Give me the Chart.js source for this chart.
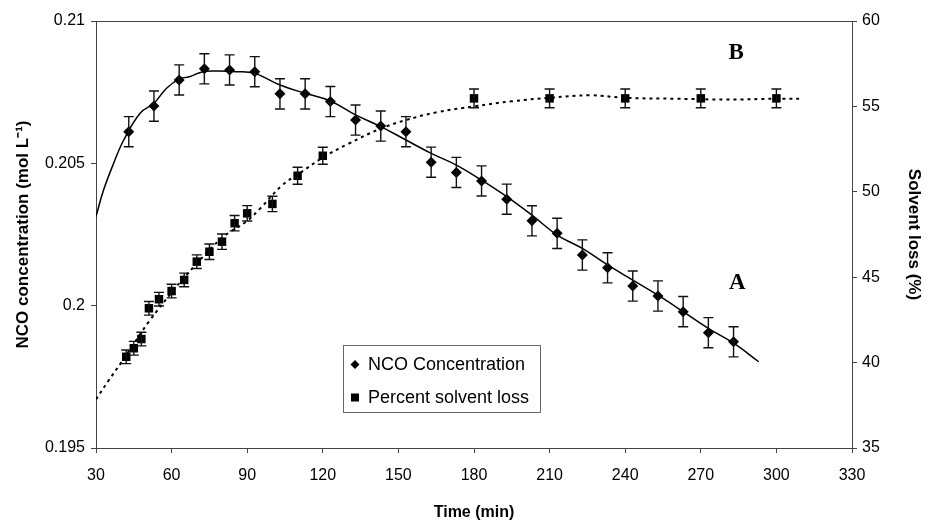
<!DOCTYPE html>
<html>
<head>
<meta charset="utf-8">
<script src="https://cdn.jsdelivr.net/npm/chart.js@4.4.1/dist/chart.umd.min.js"></script>
<style>
  body { margin: 0; background: #fff; }
  #wrap { width: 927px; height: 529px; }
</style>
</head>
<body>
<div id="wrap"><canvas id="chart" width="927" height="529"></canvas></div>
<script>
// --- Data ---
const ncoTimes = [43, 53, 63, 73, 83, 93, 103, 113, 123, 133, 143, 153, 163, 173, 183, 193, 203, 213, 223, 233, 243, 253, 263, 273, 283];
const ncoValues = [0.20611, 0.20701, 0.20793, 0.20832, 0.20828, 0.20822, 0.20744, 0.20744, 0.20717, 0.20652, 0.20631, 0.20611, 0.20504,
                   0.20468, 0.20438, 0.20374, 0.20298, 0.20254, 0.20178, 0.20133, 0.20069, 0.20034, 0.19979, 0.19905, 0.19873];
const ncoErrors = ncoTimes.map(() => 0.00053);

const lossTimes = [42, 45, 48, 51, 55, 60, 65, 70, 75, 80, 85, 90, 100, 110, 120, 180, 210, 240, 270, 300];
const lossValues = [40.34, 40.84, 41.38, 43.18, 43.71, 44.19, 44.84, 45.91, 46.49, 47.08, 48.16, 48.74, 49.29, 50.94, 52.11,
                    55.47, 55.47, 55.47, 55.47, 55.47];
const lossErrors = [0.4, 0.4, 0.4, 0.4, 0.4, 0.4, 0.4, 0.4, 0.45, 0.45, 0.45, 0.45, 0.45, 0.5, 0.5, 0.55, 0.55, 0.55, 0.55, 0.55];

// trend lines (solid polynomial fit for NCO, dotted for solvent loss)
const ncoTrendTimes = [30, 33, 37, 41, 47.5, 53, 58, 63, 67, 72.5, 78.5, 85.5, 93, 103, 113, 123, 133, 143, 153, 163, 173, 183, 193, 203, 213, 223, 233, 243, 253, 263, 273, 283, 293];
const ncoTrendValues = [0.20313, 0.20406, 0.20500, 0.20582, 0.20676, 0.20711, 0.20764, 0.20796, 0.20804, 0.20822, 0.20824, 0.20822, 0.20816,
                        0.20775, 0.20746, 0.20719, 0.20670, 0.20629, 0.20582, 0.20535, 0.20494, 0.20441, 0.20383, 0.20318, 0.20248,
                        0.20201, 0.20143, 0.20090, 0.20037, 0.19979, 0.19920, 0.19868, 0.19803];

const lossTrendTimes = [30, 35, 40, 45, 51, 60, 70, 80, 90, 95, 104, 110, 120, 130, 143, 153, 165, 180, 195, 210, 226, 240, 260, 280, 300, 309];
const lossTrendValues = [37.85, 38.95, 40.0, 41.1, 42.4, 44.1, 45.8, 47.3, 48.3, 49.0, 50.4, 51.0, 52.0, 52.8, 53.7, 54.2, 54.65, 55.0,
                         55.3, 55.5, 55.65, 55.5, 55.45, 55.4, 55.45, 55.45];

const xTicks = [30, 330, 30];      // min, max, step
const yLeftTicks = [0.195, 0.21, 0.005];
const yRightTicks = [35, 60, 5];

const legendLabels = ['NCO Concentration', 'Percent solvent loss'];
const curveLabels = [{ text: 'B', x: 284, y: 0.20887 }, { text: 'A', x: 284.5, y: 0.20079 }];

const zip = (xs, ys) => xs.map((x, i) => ({ x: x, y: ys[i] }));
const FONT = "'Liberation Sans', Arial, sans-serif";

// --- error bars drawn through the chart scales ---
const errorBars = {
    id: 'errorBars',
    afterDatasetsDraw(chart) {
        const ctx = chart.ctx;
        chart.data.datasets.forEach((ds, i) => {
            if (!ds.errors) return;
            const meta = chart.getDatasetMeta(i);
            const yScale = chart.scales[ds.yAxisID];
            ctx.save();
            ctx.strokeStyle = '#111';
            ctx.lineWidth = 1.4;
            meta.data.forEach((pt, j) => {
                const v = ds.data[j].y, e = ds.errors[j];
                const top = yScale.getPixelForValue(v + e);
                const bot = yScale.getPixelForValue(v - e);
                ctx.beginPath();
                ctx.moveTo(pt.x, top); ctx.lineTo(pt.x, bot);
                ctx.moveTo(pt.x - 5, top); ctx.lineTo(pt.x + 5, top);
                ctx.moveTo(pt.x - 5, bot); ctx.lineTo(pt.x + 5, bot);
                ctx.stroke();
            });
            ctx.restore();
        });
    }
};

// --- frame, legend box and A / B labels ---
const decorations = {
    id: 'decorations',
    afterDraw(chart) {
        const ctx = chart.ctx;
        const a = chart.chartArea;
        ctx.save();
        ctx.strokeStyle = '#444';
        ctx.lineWidth = 1;
        ctx.beginPath();
        ctx.moveTo(a.left, a.top + 0.5);
        ctx.lineTo(a.right, a.top + 0.5);
        ctx.stroke();

        // legend
        const lx = 343.5, ly = 345.5, lw = 197, lh = 67;
        ctx.strokeStyle = '#666';
        ctx.strokeRect(lx, ly, lw, lh);
        ctx.fillStyle = '#000';
        ctx.font = '18px ' + FONT;
        ctx.textBaseline = 'middle';
        ctx.textAlign = 'left';
        const rows = [ly + 19, ly + 52];
        // diamond
        ctx.beginPath();
        ctx.moveTo(355, rows[0] - 4.5); ctx.lineTo(359.5, rows[0]);
        ctx.lineTo(355, rows[0] + 4.5); ctx.lineTo(350.5, rows[0]);
        ctx.closePath(); ctx.fill();
        ctx.fillRect(351, rows[1] - 4, 8, 8);
        ctx.fillText(legendLabels[0], 368, rows[0] + 1);
        ctx.fillText(legendLabels[1], 368, rows[1] + 1);

        // curve labels
        ctx.font = "bold 23px 'Liberation Serif', 'Times New Roman', serif";
        ctx.textAlign = 'center';
        curveLabels.forEach(l => {
            ctx.fillText(l.text, chart.scales.x.getPixelForValue(l.x), chart.scales.y.getPixelForValue(l.y));
        });
        ctx.restore();
    }
};

const ctx = document.getElementById('chart').getContext('2d');
new Chart(ctx, {
    type: 'scatter',
    data: {
        datasets: [
            {
                label: 'NCO Concentration',
                data: zip(ncoTimes, ncoValues),
                errors: ncoErrors,
                yAxisID: 'y',
                pointStyle: 'rectRot',
                pointRadius: 5.5,
                backgroundColor: '#000',
                borderColor: '#000',
                borderWidth: 0
            },
            {
                label: 'Percent solvent loss',
                data: zip(lossTimes, lossValues),
                errors: lossErrors,
                yAxisID: 'y1',
                pointStyle: 'rect',
                pointRadius: 6,
                backgroundColor: '#000',
                borderColor: '#000',
                borderWidth: 0
            },
            {
                label: 'NCO trend',
                data: zip(ncoTrendTimes, ncoTrendValues),
                yAxisID: 'y',
                showLine: true,
                pointRadius: 0,
                borderColor: '#000',
                borderWidth: 1.5,
                tension: 0.4
            },
            {
                label: 'Solvent loss trend',
                data: zip(lossTrendTimes, lossTrendValues),
                yAxisID: 'y1',
                showLine: true,
                pointRadius: 0,
                borderColor: '#000',
                borderWidth: 2,
                borderDash: [3, 4],
                tension: 0.4
            }
        ]
    },
    options: {
        responsive: false,
        animation: false,
        layout: { padding: { top: 21, left: 0, right: 0, bottom: 0 } },
        plugins: {
            legend: { display: false },
            tooltip: { enabled: false }
        },
        scales: {
            x: {
                type: 'linear',
                min: xTicks[0], max: xTicks[1],
                afterFit: s => { s.height = 81; },
                ticks: { stepSize: xTicks[2], color: '#000', padding: 13, font: { family: FONT, size: 16 } },
                grid: { drawOnChartArea: false, drawTicks: true, tickLength: 5, color: '#444' },
                border: { display: true, color: '#444' },
                title: { display: true, text: 'Time (min)', color: '#000', padding: { top: 0, bottom: 7 },
                         font: { family: FONT, size: 16, weight: 'bold' } }
            },
            y: {
                position: 'left',
                min: yLeftTicks[0], max: yLeftTicks[1],
                afterFit: s => { s.width = 96; },
                ticks: { stepSize: yLeftTicks[2], color: '#000', padding: 6, font: { family: FONT, size: 16 },
                         callback: v => String(+v.toFixed(3)) },
                grid: { drawOnChartArea: false, drawTicks: true, tickLength: 5, color: '#444' },
                border: { display: true, color: '#444' },
                title: { display: true, text: 'NCO concentration (mol L\u207B\u00B9)', color: '#000', padding: { top: 13, bottom: 0 },
                         font: { family: FONT, size: 17, weight: 'bold' } }
            },
            y1: {
                position: 'right',
                min: yRightTicks[0], max: yRightTicks[1],
                afterFit: s => { s.width = 75; },
                ticks: { stepSize: yRightTicks[2], color: '#000', padding: 5, font: { family: FONT, size: 16 } },
                grid: { drawOnChartArea: false, drawTicks: true, tickLength: 5, color: '#444' },
                border: { display: true, color: '#444' },
                title: { display: true, text: 'Solvent loss (%)', color: '#000', padding: { top: 3, bottom: 0 },
                         font: { family: FONT, size: 17, weight: 'bold' } }
            }
        }
    },
    plugins: [errorBars, decorations]
});
</script>
</body>
</html>
